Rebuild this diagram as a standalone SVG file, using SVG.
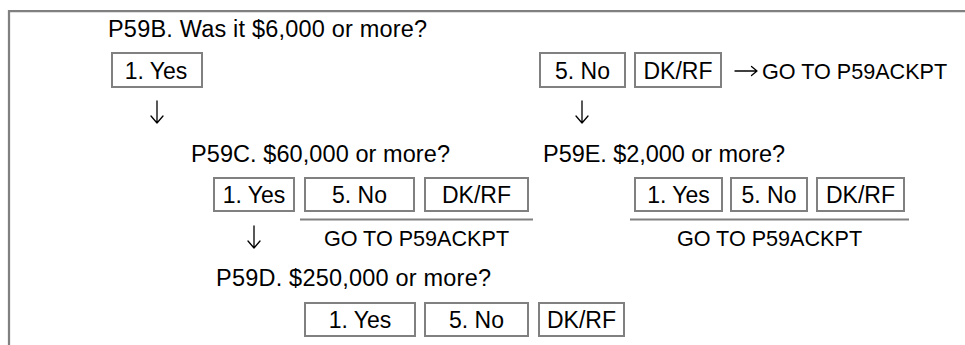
<svg xmlns="http://www.w3.org/2000/svg" width="965" height="345" viewBox="0 0 965 345">
<defs>
<style>
text{font-family:"Liberation Sans",Arial,sans-serif;font-size:23px;fill:#000}
.q{font-size:23.5px}
.g{font-size:21.6px}
.c{text-anchor:middle}
.box{fill:#fff;stroke:#808080;stroke-width:2}
.rule{stroke:#808080;stroke-width:2;fill:none}
.frame{stroke:#808080;stroke-width:2.25;fill:none}
.arr{stroke:#000;stroke-width:1.3;fill:none;stroke-linecap:round;stroke-linejoin:round}
</style>
</defs>
<rect width="965" height="345" fill="#fff"/>
<path class="frame" d="M9 345 V11 H965"/>

<g id="q-p59b"><text class="q" x="108" y="37" textLength="319">P59B. Was it $6,000 or more?</text></g>
<g id="p59b-yes"><rect class="box" x="112" y="53" width="90" height="34"/><text class="c" x="156" y="79">1. Yes</text></g>
<g id="p59b-no"><rect class="box" x="540" y="53" width="85" height="34"/><text class="c" x="582.5" y="79">5. No</text></g>
<g id="p59b-dkrf"><rect class="box" x="635" y="53" width="86" height="34"/><text class="c" x="678" y="79">DK/RF</text></g>
<g id="goto-1"><text class="g" x="762" y="79">GO TO P59ACKPT</text></g>

<g id="q-p59c"><text class="q" x="191" y="162" textLength="259">P59C. $60,000 or more?</text></g>
<g id="p59c-yes"><rect class="box" x="214" y="178" width="80" height="33"/><text class="c" x="254" y="203">1. Yes</text></g>
<g id="p59c-no"><rect class="box" x="305" y="178" width="109" height="33"/><text class="c" x="359.5" y="203">5. No</text></g>
<g id="p59c-dkrf"><rect class="box" x="425" y="178" width="103" height="33"/><text class="c" x="476.5" y="203">DK/RF</text></g>
<g id="goto-2"><line class="rule" x1="300" y1="219.5" x2="533" y2="219.5"/><text class="g c" x="416.5" y="246">GO TO P59ACKPT</text></g>

<g id="q-p59e"><text class="q" x="543" y="162" textLength="242">P59E. $2,000 or more?</text></g>
<g id="p59e-yes"><rect class="box" x="635" y="178" width="87" height="33"/><text class="c" x="678.5" y="203">1. Yes</text></g>
<g id="p59e-no"><rect class="box" x="731" y="178" width="76" height="33"/><text class="c" x="769" y="203">5. No</text></g>
<g id="p59e-dkrf"><rect class="box" x="817" y="178" width="87" height="33"/><text class="c" x="860.5" y="203">DK/RF</text></g>
<g id="goto-3"><line class="rule" x1="630" y1="219.5" x2="909" y2="219.5"/><text class="g c" x="769.5" y="246">GO TO P59ACKPT</text></g>

<g id="q-p59d"><text class="q" x="216" y="286" textLength="275">P59D. $250,000 or more?</text></g>
<g id="p59d-yes"><rect class="box" x="305" y="303" width="110" height="33"/><text class="c" x="360" y="328">1. Yes</text></g>
<g id="p59d-no"><rect class="box" x="425" y="303" width="103" height="33"/><text class="c" x="476.5" y="328">5. No</text></g>
<g id="p59d-dkrf"><rect class="box" x="539" y="303" width="85" height="33"/><text class="c" x="581.5" y="328">DK/RF</text></g>

<g id="connectors">
<path class="arr" d="M157 101 V123 M151 116 L157 123 L163 116"/>
<path class="arr" d="M582 101 V123 M576 116 L582 123 L588 116"/>
<path class="arr" d="M254 226 V248 M248 241 L254 248 L260 241"/>
<path class="arr" d="M735 71 H757 M751.5 66.5 L757 71 L751.5 75.5"/>
</g>
</svg>
